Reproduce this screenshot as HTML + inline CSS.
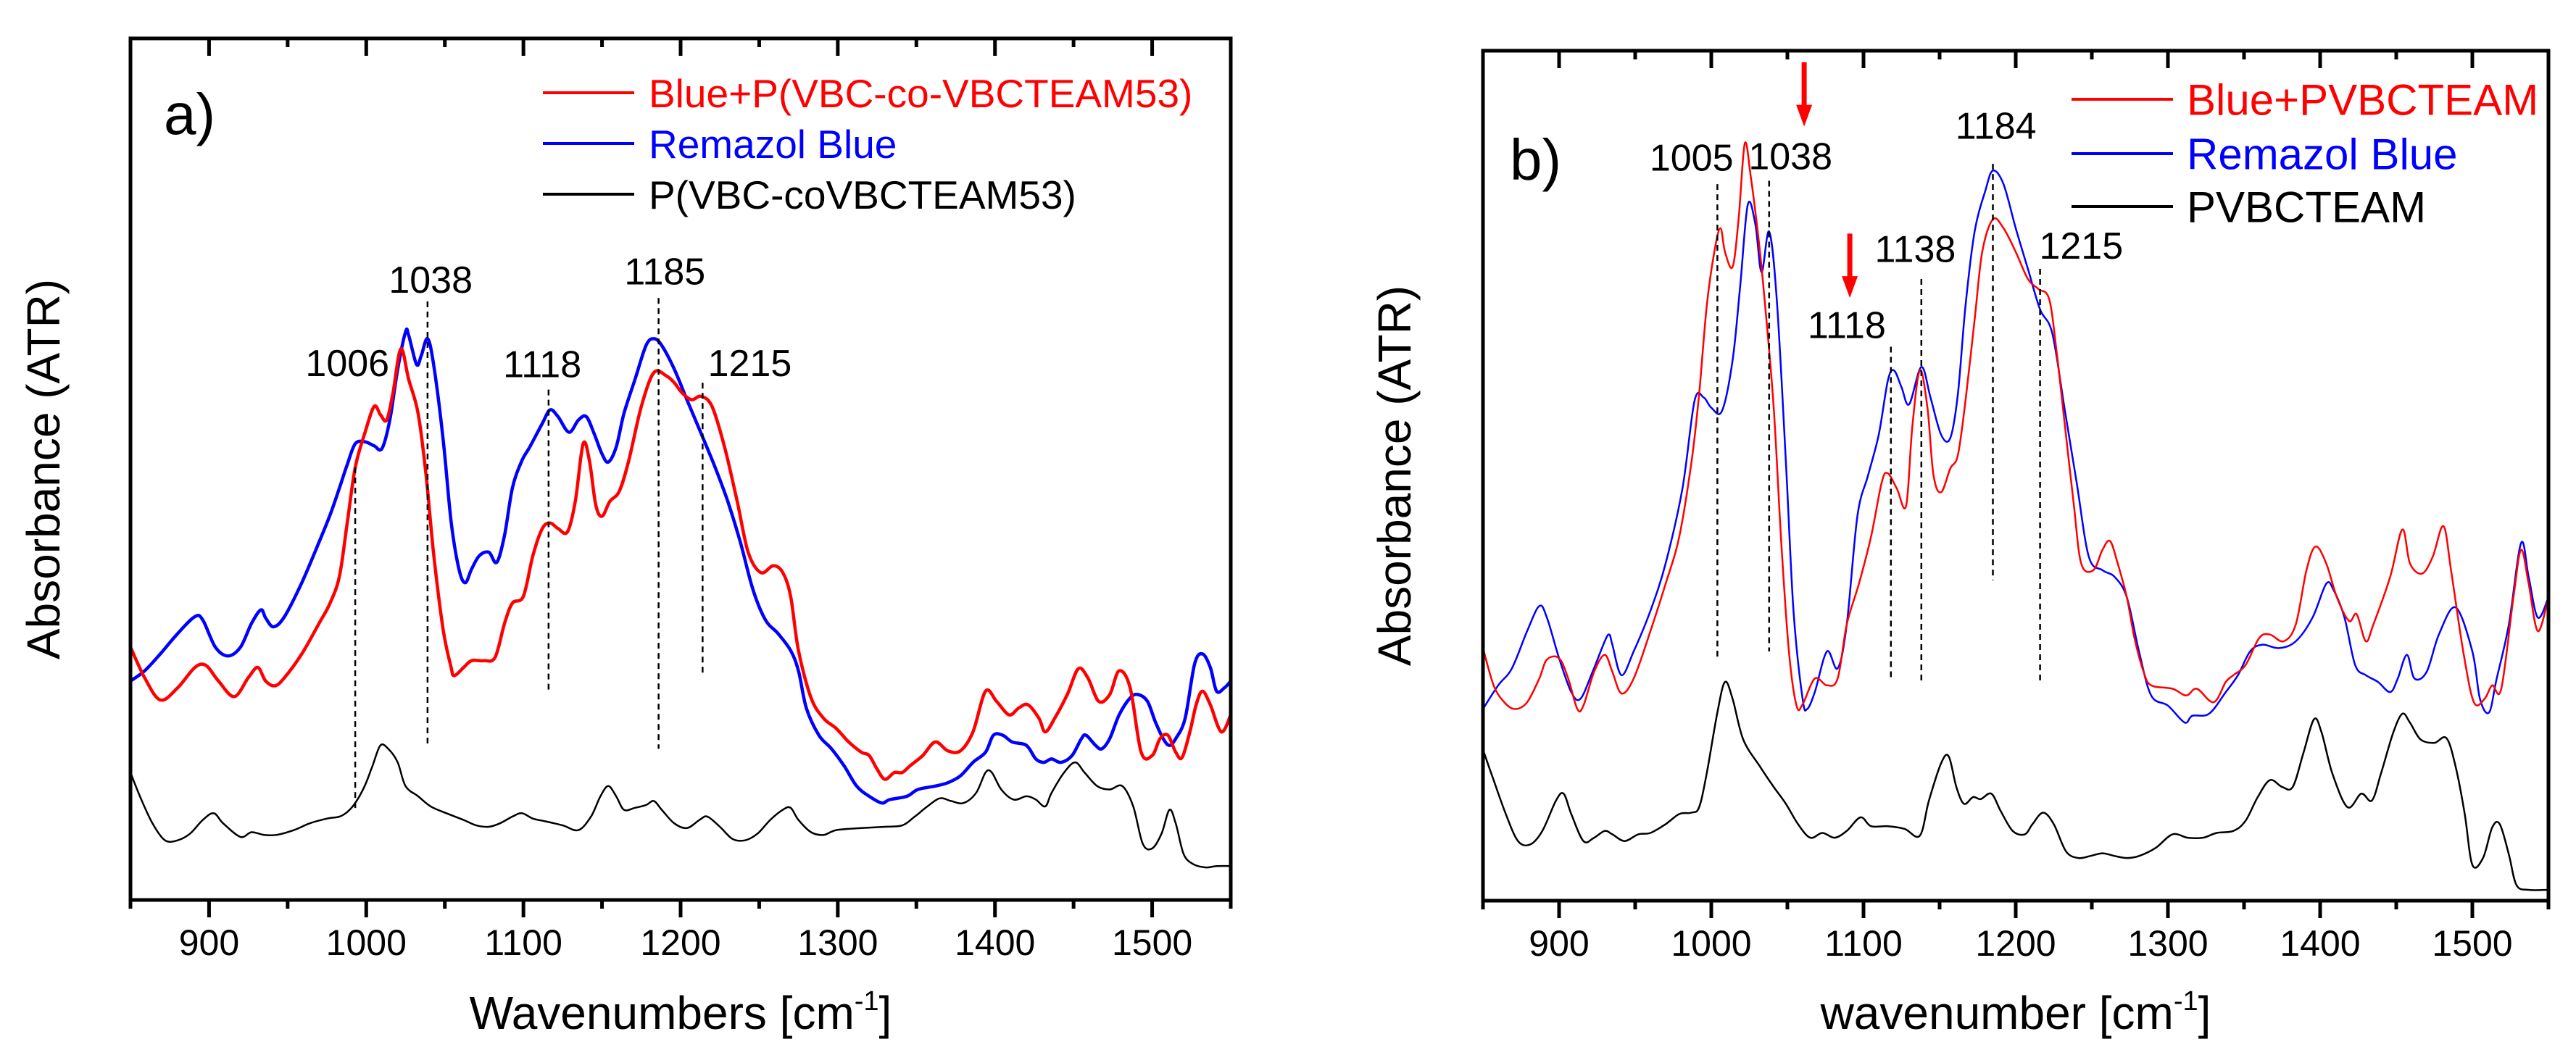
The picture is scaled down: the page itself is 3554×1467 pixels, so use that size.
<!DOCTYPE html>
<html><head><meta charset="utf-8"><style>
html,body{margin:0;padding:0;background:#fff;}
svg{display:block;font-family:"Liberation Sans",Arial,sans-serif;}
</style></head><body>
<svg id="fig" width="3554" height="1467" viewBox="0 0 3554 1467"></svg>
<script>
// ---------- Panel a data (wavenumber, absorbance a.u.) ----------
const aRedX=[850,859,869,880,891,898,906,916,925,931,936,942,948,959,970,977,983,988,993,999,1005,1009,1013,1017,1022,1027,1033,1038,1043,1049,1054,1056,1062,1067,1075,1082,1088,1093,1100,1106,1112,1117,1122,1128,1133,1138,1142,1146,1150,1155,1161,1167,1175,1183,1191,1196,1201,1207,1213,1220,1228,1236,1243,1251,1259,1265,1270,1275,1283,1291,1299,1307,1315,1320,1325,1330,1336,1341,1346,1354,1362,1370,1378,1386,1394,1401,1409,1415,1421,1428,1432,1438,1446,1453,1459,1466,1473,1479,1486,1493,1500,1505,1510,1515,1519,1524,1528,1532,1537,1544,1550];
const aRedY=[373,328,295,313,343,346,323,300,328,343,323,316,328,363,408,438,478,558,638,688,728,716,708,748,813,768,718,628,508,398,343,331,343,353,353,358,408,438,448,508,548,556,548,543,588,673,648,583,566,588,603,648,728,778,773,763,748,738,743,728,668,588,513,483,493,483,448,368,298,268,253,233,218,213,193,178,188,188,198,213,233,220,220,248,308,293,273,283,288,268,248,268,303,341,328,293,303,338,313,218,213,238,243,218,210,248,288,308,288,248,273];
const aBlueX=[850,859,869,880,891,896,904,912,920,927,933,936,941,948,959,970,977,983,988,993,999,1005,1010,1015,1020,1025,1027,1032,1035,1039,1043,1049,1054,1059,1063,1067,1072,1078,1083,1088,1093,1099,1104,1112,1117,1122,1129,1135,1140,1145,1150,1154,1159,1164,1171,1178,1183,1188,1196,1204,1214,1222,1230,1238,1246,1254,1262,1270,1275,1280,1288,1296,1304,1312,1320,1328,1333,1344,1351,1362,1370,1378,1386,1394,1399,1405,1411,1420,1426,1431,1436,1442,1449,1455,1458,1464,1468,1473,1479,1486,1491,1497,1502,1507,1511,1515,1521,1527,1532,1537,1541,1546,1550];
const aBlueY=[323,338,363,393,418,413,373,360,373,408,428,416,403,418,468,528,568,608,643,673,676,670,666,708,783,838,833,790,803,828,788,678,558,488,468,488,508,513,498,538,608,648,668,703,723,713,690,708,713,688,658,646,668,718,768,818,828,818,783,738,683,638,588,528,458,413,393,368,338,283,243,223,198,168,153,143,148,153,163,168,173,183,203,218,243,243,233,228,208,203,208,203,213,238,243,228,223,238,273,298,303,293,263,238,228,238,268,348,363,343,308,313,323];
const aBlackX=[850,856,864,872,880,888,896,903,909,920,927,935,943,954,964,975,983,988,993,999,1004,1009,1014,1020,1025,1033,1041,1051,1062,1070,1078,1085,1093,1099,1106,1114,1125,1135,1143,1149,1154,1159,1164,1171,1178,1183,1188,1196,1204,1212,1217,1225,1233,1241,1249,1257,1265,1270,1275,1283,1291,1299,1315,1330,1341,1349,1357,1365,1372,1380,1388,1394,1398,1404,1412,1420,1426,1432,1436,1444,1451,1457,1465,1473,1481,1488,1494,1500,1506,1511,1515,1520,1526,1534,1541,1550];
const aBlackY=[188,153,113,88,88,98,118,128,113,93,100,96,96,103,113,120,123,130,143,168,198,228,223,203,168,153,138,128,118,110,108,113,123,128,120,116,110,103,123,153,168,153,133,136,140,146,133,113,106,118,123,108,90,88,98,118,133,136,118,100,96,103,106,108,110,123,138,150,146,143,158,188,188,163,148,153,148,138,158,188,203,188,168,163,168,138,83,76,98,133,113,68,53,48,50,50];
const aPeakLabels=["1006","1038","1118","1185","1215"];
const aPeakLineX=[993,1039,1116,1186,1214];
const aPeakLineTop=[638,883,753,888,763];
const aPeakLineBot=[133,228,308,223,333];
const aPeakTextX=[988,1041,1112,1190,1244];
const aPeakTextY=[773,896,771,908,773];

// ---------- Panel b data ----------
const bRedX=[850,857,864,871,879,887,892,900,906,912,916,923,930,935,941,949,960,970,979,987,992,997,1002,1006,1009,1014,1018,1022,1026,1031,1035,1041,1046,1051,1056,1060,1068,1076,1083,1089,1097,1105,1112,1116,1122,1128,1132,1137,1142,1146,1151,1157,1162,1167,1173,1178,1185,1192,1200,1208,1215,1222,1227,1232,1238,1243,1251,1257,1262,1267,1273,1278,1284,1289,1303,1312,1319,1330,1338,1343,1351,1360,1367,1376,1384,1391,1397,1404,1411,1419,1424,1430,1435,1446,1454,1459,1467,1474,1481,1486,1494,1501,1508,1513,1519,1527,1532,1537,1543,1550];
const bRedY=[373,318,293,283,293,328,356,358,328,283,288,338,363,338,306,328,398,468,538,648,748,878,958,993,958,936,1008,1118,1068,978,888,728,528,368,288,290,328,318,328,408,468,538,618,631,608,583,698,783,728,628,603,638,658,738,858,958,1006,993,958,918,903,888,808,708,588,498,488,518,531,498,448,388,338,318,313,303,313,293,323,333,348,388,393,383,408,488,523,498,448,413,423,383,408,478,548,498,483,508,553,488,368,293,298,318,313,448,518,468,398,448];
const bBlueX=[850,860,869,879,887,892,900,908,914,922,930,933,935,941,949,960,970,981,989,995,1000,1007,1014,1019,1024,1029,1033,1038,1043,1049,1054,1060,1063,1068,1076,1083,1089,1096,1103,1110,1116,1120,1125,1130,1138,1144,1151,1157,1162,1167,1173,1180,1185,1192,1200,1208,1216,1224,1232,1240,1248,1257,1265,1273,1281,1289,1300,1311,1316,1327,1338,1346,1354,1362,1373,1384,1395,1404,1409,1416,1423,1430,1438,1446,1451,1457,1462,1470,1478,1489,1500,1505,1511,1516,1524,1532,1537,1543,1550];
const bBlueY=[283,318,343,398,435,418,358,308,298,338,383,393,378,333,368,428,498,608,738,743,728,723,798,908,1028,998,928,988,888,648,428,298,283,308,368,343,408,568,628,688,768,783,758,733,788,743,688,683,748,878,988,1048,1078,1058,993,933,873,838,728,618,508,488,478,448,368,303,288,263,273,276,308,333,368,378,373,383,418,468,458,418,348,333,323,308,328,363,328,338,393,433,368,298,278,328,408,528,478,418,448];
const bBlackX=[850,857,865,873,881,889,898,903,908,916,923,930,935,943,952,960,970,979,987,992,997,1004,1009,1014,1021,1032,1041,1049,1057,1065,1073,1081,1089,1098,1105,1116,1127,1137,1143,1151,1156,1161,1166,1172,1177,1184,1190,1198,1206,1211,1218,1225,1233,1241,1249,1257,1265,1273,1281,1292,1303,1313,1323,1332,1343,1351,1359,1367,1375,1382,1389,1396,1401,1408,1418,1427,1434,1440,1448,1454,1459,1466,1475,1483,1489,1495,1500,1507,1513,1518,1524,1529,1537,1550];
const bBlackY=[223,178,128,88,83,103,148,158,128,88,93,103,98,88,98,100,113,128,130,138,188,278,323,298,238,198,168,143,113,93,100,93,103,123,110,110,106,96,148,203,213,168,143,153,150,158,133,103,98,113,130,113,73,63,66,70,66,63,66,78,98,93,93,100,103,118,153,178,168,168,218,268,248,188,138,158,148,188,248,276,263,238,233,240,198,128,53,63,108,113,68,23,16,16];
const bPeakLabels=["1005","1038","1118","1138","1184","1215"];
const bPeakLineX=[1004,1038,1118,1138,1185,1216];
const bPeakLineTop=[1058,1063,818,918,1088,933];
const bPeakLineBot=[358,368,328,323,473,323];
const bPeakTextX=[987,1052,1089,1134,1187,1243];
const bPeakTextY=[1078,1080,831,943,1125,948];
const bArrowX=[1061,1091];
const bArrowTop=[1238,985];
const bArrowBot=[1143,890];

const xTicks=[900,1000,1100,1200,1300,1400,1500];
const xMinor=[850,950,1050,1150,1250,1350,1450,1550];

const NS="http://www.w3.org/2000/svg";
const svg=document.getElementById('fig');
function mk(tag,attrs,parent){const e=document.createElementNS(NS,tag);for(const k in attrs)e.setAttribute(k,attrs[k]);(parent||svg).appendChild(e);return e;}

function smoothPath(pts){
  let d='M'+pts[0][0].toFixed(1)+' '+pts[0][1].toFixed(1);
  for(let i=0;i<pts.length-1;i++){
    const p0=pts[Math.max(0,i-1)],p1=pts[i],p2=pts[i+1],p3=pts[Math.min(pts.length-1,i+2)];
    const c1x=p1[0]+(p2[0]-p0[0])/6,c1y=p1[1]+(p2[1]-p0[1])/6;
    const c2x=p2[0]-(p3[0]-p1[0])/6,c2y=p2[1]-(p3[1]-p1[1])/6;
    d+='C'+c1x.toFixed(1)+' '+c1y.toFixed(1)+' '+c2x.toFixed(1)+' '+c2y.toFixed(1)+' '+p2[0].toFixed(1)+' '+p2[1].toFixed(1);
  }
  return d;
}

function panel(P){
  const g=mk('g',{});
  
  
  const sx=v=>P.x0+(v-850)/700*(P.x1-P.x0);
  const sy=v=>P.y1-v/P.vmax*(P.y1-P.y0);
  P.series.forEach(s=>{
    const pts=s.x.map((xv,i)=>[sx(xv),sy(s.y[i])]);
    const p=mk('path',{d:smoothPath(pts),fill:'none',stroke:s.color,'stroke-width':s.w,'stroke-linejoin':'round'},g);
    
    
  });
  P.peaks.lx.forEach((xv,i)=>{
    const l=mk('line',{x1:sx(xv),x2:sx(xv),y1:sy(P.peaks.top[i]),y2:sy(P.peaks.bot[i]),stroke:'#000','stroke-width':2.5,'stroke-dasharray':'8 6'},g);
    
    
    const t=mk('text',{x:sx(P.peaks.tx[i]),y:sy(P.peaks.ty[i]),'text-anchor':'middle','font-size':52,fill:'#000'},g);
    t.textContent=P.peaks.labels[i];
    
    
  });
  (P.arrows||{x:[]}).x.forEach((xv,i)=>{
    const ax=sx(xv),yt=sy(P.arrows.top[i]),yb=sy(P.arrows.bot[i]);
    const a=mk('g',{},g);
    
    
    mk('line',{x1:ax,x2:ax,y1:yt,y2:yb-26,stroke:'#f00','stroke-width':7},a);
    mk('polygon',{points:`${ax-11},${yb-30} ${ax+11},${yb-30} ${ax},${yb}`,fill:'#f00'},a);
  });
  const fr=mk('rect',{x:P.x0,y:P.y0,width:P.x1-P.x0,height:P.y1-P.y0,fill:'none',stroke:'#000','stroke-width':5},g);
  
  
  xTicks.forEach(v=>{
    mk('line',{x1:sx(v),x2:sx(v),y1:P.y1,y2:P.y1+24,stroke:'#000','stroke-width':5},g);
    mk('line',{x1:sx(v),x2:sx(v),y1:P.y0,y2:P.y0+24,stroke:'#000','stroke-width':5},g);
    const t=mk('text',{x:sx(v),y:P.y1+76,'text-anchor':'middle','font-size':50},g);
    t.textContent=v;
    
    
  });
  xMinor.forEach(v=>{
    mk('line',{x1:sx(v),x2:sx(v),y1:P.y1,y2:P.y1+12,stroke:'#000','stroke-width':5},g);
    mk('line',{x1:sx(v),x2:sx(v),y1:P.y0,y2:P.y0+12,stroke:'#000','stroke-width':5},g);
  });
  const xt=mk('text',{x:(P.x0+P.x1)/2+P.xtOff,y:1420,'text-anchor':'middle','font-size':64},g);
  xt.innerHTML=P.xtitle+' [cm<tspan dy="-26" font-size="38">-1</tspan><tspan dy="26">]</tspan>';
  
  
  const yt=mk('text',{x:0,y:0,transform:`translate(${P.ytx},${(P.y0+P.y1)/2}) rotate(-90)`,'text-anchor':'middle','font-size':64},g);
  yt.textContent='Absorbance (ATR)';
  
  
  const pl=mk('text',{x:P.lbl[0],y:P.lbl[1],'font-size':80},g);
  pl.textContent=P.letter;
  
  
  P.series.slice().reverse().forEach((s,i)=>{
    const ly=P.leg.y[i];
    const le=mk('g',{},g);
    
    
    mk('line',{x1:P.leg.x0,x2:P.leg.x1,y1:ly,y2:ly,stroke:s.color,'stroke-width':4},le);
    const t=mk('text',{x:P.leg.tx,y:ly+P.leg.fs*0.36,'font-size':P.leg.fs,fill:s.color},le);
    t.textContent=s.label;
  });
}

panel({name:'panel-a',x0:180,x1:1698,y0:53,y1:1242,vmax:1271,xtitle:'Wavenumbers',xtOff:0,ytx:82,letter:'a)',lbl:[226,185],
  series:[
    {name:'series-p-vbc-co-vbcteam53',x:aBlackX,y:aBlackY,color:'#000',w:2.5,label:'P(VBC-coVBCTEAM53)'},
    {name:'series-remazol-blue',x:aBlueX,y:aBlueY,color:'#0000ff',w:4.5,label:'Remazol Blue'},
    {name:'series-blue-plus-polymer',x:aRedX,y:aRedY,color:'#ff0000',w:4.5,label:'Blue+P(VBC-co-VBCTEAM53)'}],
  leg:{x0:749,x1:875,tx:895,fs:55,y:[128,198,268]},
  peaks:{labels:aPeakLabels,lx:aPeakLineX,top:aPeakLineTop,bot:aPeakLineBot,tx:aPeakTextX,ty:aPeakTextY}});

panel({name:'panel-b',x0:2046,x1:3516,y0:70,y1:1243,vmax:1255,xtitle:'wavenumber',xtOff:0,ytx:1946,letter:'b)',lbl:[2083,248],
  series:[
    {name:'series-pvbcteam',x:bBlackX,y:bBlackY,color:'#000',w:2.5,label:'PVBCTEAM'},
    {name:'series-remazol-blue-b',x:bBlueX,y:bBlueY,color:'#0000ff',w:2.5,label:'Remazol Blue'},
    {name:'series-blue-plus-pvbcteam',x:bRedX,y:bRedY,color:'#ff0000',w:2.5,label:'Blue+PVBCTEAM'}],
  leg:{x0:2858,x1:2998,tx:3017,fs:60,y:[137,212,285]},
  peaks:{labels:bPeakLabels,lx:bPeakLineX,top:bPeakLineTop,bot:bPeakLineBot,tx:bPeakTextX,ty:bPeakTextY},
  arrows:{x:bArrowX,top:bArrowTop,bot:bArrowBot}});
</script>
</body></html>
